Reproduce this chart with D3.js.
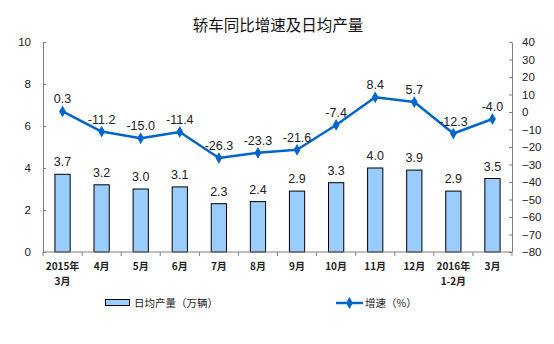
<!DOCTYPE html>
<html>
<head>
<meta charset="utf-8">
<script src="https://cdn.jsdelivr.net/npm/d3@7/dist/d3.min.js"></script>
<style>
  html, body { margin: 0; padding: 0; background: #fff; }
  svg { display: block; }
</style>
</head>
<body>
<svg id="chart" width="554" height="344"></svg>
<script>
// Monthly sedan output: daily average (10k units) and YoY growth (%)
const categories = ["2015年\n3月", "4月", "5月", "6月", "7月", "8月", "9月", "10月", "11月", "12月", "2016年\n1-2月", "3月"];
const dailyOutput = [3.7, 3.2, 3.0, 3.1, 2.3, 2.4, 2.9, 3.3, 4.0, 3.9, 2.9, 3.5];
const growthRate = [0.3, -11.2, -15.0, -11.4, -26.3, -23.3, -21.6, -7.4, 8.4, 5.7, -12.3, -4.0];
const leftTicks = [0, 2, 4, 6, 8, 10];
const rightTicks = [40, 30, 20, 10, 0, -10, -20, -30, -40, -50, -60, -70, -80];

const svg = d3.select("#chart");
const plotLeft = 43, plotRight = 512, plotTop = 42, plotBottom = 252;
const axisColor = "#808080";
const textColor = "#222";
const numFont = "Liberation Sans, Arial, sans-serif";
const cjkFont = "Noto Sans CJK SC, sans-serif";

const x = d3.scaleBand().domain(categories).range([plotLeft, plotRight]);
const yL = d3.scaleLinear().domain([0, 10]).range([plotBottom, plotTop]);
const yR = d3.scaleLinear().domain([-80, 40]).range([plotBottom, plotTop]);

// Title
svg.append("text")
  .attr("x", 278).attr("y", 31)
  .attr("text-anchor", "middle")
  .attr("font-family", cjkFont)
  .attr("font-size", 15.5)
  .attr("fill", "#111")
  .text("轿车同比增速及日均产量");

// Left axis (ticks point inward)
const gL = svg.append("g").attr("transform", `translate(${plotLeft},0)`)
  .call(d3.axisLeft(yL).tickValues(leftTicks).tickSize(-3).tickPadding(12).tickSizeOuter(0));
// Right axis (ticks point inward)
const gR = svg.append("g").attr("transform", `translate(${plotRight},0)`)
  .call(d3.axisRight(yR).tickValues(rightTicks).tickSize(-3).tickPadding(10).tickSizeOuter(0));
[gL, gR].forEach(g => {
  g.select(".domain").attr("stroke", axisColor);
  g.selectAll(".tick line").attr("stroke", axisColor);
  g.selectAll(".tick text").attr("font-family", numFont).attr("font-size", 11.5).attr("fill", textColor);
});

// Bars
const barW = x.bandwidth() * 0.39;
svg.append("g").selectAll("rect").data(dailyOutput).join("rect")
  .attr("x", (d, i) => x(categories[i]) + x.bandwidth() / 2 - barW / 2)
  .attr("y", d => yL(d))
  .attr("width", barW)
  .attr("height", d => yL(0) - yL(d))
  .attr("fill", "#99CCFF")
  .attr("stroke", "#000")
  .attr("stroke-width", 1);

// Bar value labels
svg.append("g").selectAll("text").data(dailyOutput).join("text")
  .attr("x", (d, i) => x(categories[i]) + x.bandwidth() / 2)
  .attr("y", d => yL(d) - 8)
  .attr("text-anchor", "middle")
  .attr("font-family", numFont).attr("font-size", 12.5).attr("fill", textColor)
  .text(d => d.toFixed(1));

// Bottom axis with category separators
const xAxisG = svg.append("g");
xAxisG.append("line").attr("x1", plotLeft).attr("x2", plotRight).attr("y1", plotBottom).attr("y2", plotBottom).attr("stroke", axisColor);
const seps = categories.map(c => x(c)).concat([plotRight]);
xAxisG.selectAll("line.sep").data(seps).join("line").attr("class", "sep")
  .attr("x1", d => d).attr("x2", d => d).attr("y1", plotBottom).attr("y2", plotBottom + 4)
  .attr("stroke", axisColor);
const catText = xAxisG.selectAll("text").data(categories).join("text")
  .attr("x", d => x(d) + x.bandwidth() / 2)
  .attr("y", plotBottom + 18)
  .attr("text-anchor", "middle")
  .attr("font-family", cjkFont).attr("font-size", 10).attr("font-weight", "bold").attr("fill", textColor);
catText.each(function(d) {
  const lines = d.split("\n");
  d3.select(this).selectAll("tspan").data(lines).join("tspan")
    .attr("x", x(d) + x.bandwidth() / 2)
    .attr("dy", (l, i) => i === 0 ? 0 : 15)
    .text(l => l);
});

// Growth line
const cx = i => x(categories[i]) + x.bandwidth() / 2;
const line = d3.line().x((d, i) => cx(i)).y(d => yR(d));
svg.append("path").datum(growthRate)
  .attr("d", line)
  .attr("fill", "none")
  .attr("stroke", "#0066CC")
  .attr("stroke-width", 2.5)
  .attr("stroke-linejoin", "round");
const diamond = d3.symbol().type(d3.symbolDiamond).size(40);
svg.append("g").selectAll("path").data(growthRate).join("path")
  .attr("transform", (d, i) => `translate(${cx(i)},${yR(d)})`)
  .attr("d", diamond)
  .attr("fill", "#0066CC");
svg.append("g").selectAll("text").data(growthRate).join("text")
  .attr("x", (d, i) => cx(i))
  .attr("y", d => yR(d) - 8)
  .attr("text-anchor", "middle")
  .attr("font-family", numFont).attr("font-size", 12.5).attr("fill", textColor)
  .text(d => d.toFixed(1));

// Legend
const lg = svg.append("g");
lg.append("rect").attr("x", 105.5).attr("y", 299.5).attr("width", 24).attr("height", 6)
  .attr("fill", "#99CCFF").attr("stroke", "#000");
lg.append("text").attr("x", 134).attr("y", 307)
  .attr("font-family", cjkFont).attr("font-size", 10.5).attr("fill", textColor)
  .text("日均产量（万辆）");
lg.append("line").attr("x1", 336).attr("x2", 363).attr("y1", 303).attr("y2", 303)
  .attr("stroke", "#0066CC").attr("stroke-width", 2.5);
lg.append("path").attr("transform", "translate(349.5,303)").attr("d", diamond).attr("fill", "#0066CC");
lg.append("text").attr("x", 365).attr("y", 307)
  .attr("font-family", cjkFont).attr("font-size", 10.5).attr("fill", textColor)
  .text("增速（%）");
</script>
</body>
</html>
